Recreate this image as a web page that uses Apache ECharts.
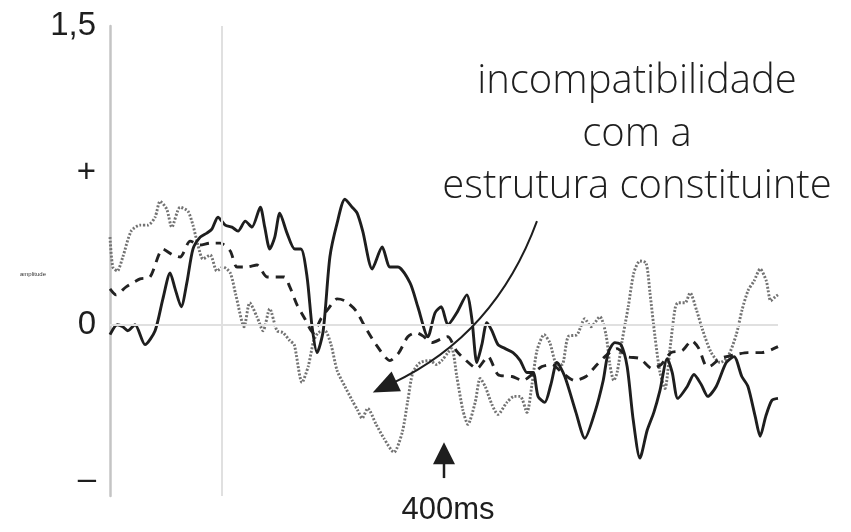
<!DOCTYPE html>
<html>
<head>
<meta charset="utf-8">
<script src="https://cdn.jsdelivr.net/npm/echarts@6/dist/echarts.min.js"></script>
<style>
  html, body { margin: 0; padding: 0; background: #fff; }
  #chart { width: 851px; height: 532px; }
</style>
</head>
<body>
<div id="chart"></div>
<script>
// ERP waveforms: time (ms) and amplitude for three conditions
const solidTime = [-200,-187,-177,-168,-155,-137,-119,-105,-92,-83,-72,-62,-51,-38,-26,-17,-6,7,19,30,43,55,70,78,87,96,105,118,132,143,154,163,172,183,195,208,222,235,244,254,271,289,303,317,339,353,371,384,395,407,423,441,450,459,468,477,486,497,510,524,537,549,560,569,581,592,603,617,637,653,671,686,695,707,718,729,740,752,765,777,788,801,810,820,837,849,862,874,889,907,921,935,946,959,968,978,989,1000];
const solidAmp = [-0.05,0.00,-0.01,-0.03,0.00,-0.10,-0.03,0.13,0.26,0.18,0.09,0.21,0.38,0.44,0.46,0.48,0.54,0.50,0.49,0.47,0.52,0.49,0.59,0.49,0.38,0.44,0.56,0.46,0.38,0.38,0.24,-0.01,-0.14,-0.03,0.34,0.51,0.63,0.59,0.56,0.47,0.28,0.39,0.29,0.29,0.21,0.09,-0.06,0.06,0.09,0.00,0.06,0.15,0.03,-0.19,-0.10,0.01,-0.03,-0.10,-0.12,-0.14,-0.18,-0.24,-0.24,-0.36,-0.39,-0.30,-0.19,-0.26,-0.44,-0.57,-0.44,-0.28,-0.14,-0.09,-0.10,-0.21,-0.48,-0.67,-0.53,-0.44,-0.33,-0.17,-0.24,-0.37,-0.31,-0.25,-0.30,-0.36,-0.31,-0.19,-0.16,-0.26,-0.31,-0.46,-0.56,-0.46,-0.38,-0.37];

const dashedTime = [-200,-189,-171,-146,-128,-105,-87,-74,-56,-38,-20,-2,16,28,46,64,82,98,113,123,136,150,165,179,192,208,222,242,258,278,303,319,335,350,364,378,396,407,422,440,459,479,497,522,542,558,576,594,612,635,655,675,693,711,729,752,774,790,808,828,845,858,869,876,896,923,946,971,1000];
const dashedAmp = [0.18,0.15,0.19,0.23,0.24,0.38,0.35,0.34,0.42,0.40,0.41,0.41,0.37,0.29,0.29,0.30,0.24,0.24,0.24,0.19,0.10,0.03,-0.04,0.03,0.08,0.13,0.12,0.07,-0.01,-0.10,-0.18,-0.14,-0.06,-0.04,-0.06,-0.09,-0.07,-0.06,-0.13,-0.18,-0.22,-0.16,-0.25,-0.26,-0.28,-0.25,-0.21,-0.20,-0.24,-0.28,-0.26,-0.20,-0.15,-0.12,-0.16,-0.17,-0.22,-0.20,-0.14,-0.13,-0.08,-0.12,-0.20,-0.21,-0.17,-0.15,-0.14,-0.14,-0.11];

const dottedTime = [-200,-195,-187,-177,-162,-146,-132,-119,-110,-98,-89,-74,-60,-51,-42,-33,-20,-8,3,16,26,41,51,64,75,87,100,111,123,131,145,156,166,174,186,197,208,222,235,245,253,263,278,292,310,325,335,344,357,375,386,396,407,414,423,434,443,456,465,474,486,497,513,526,537,549,558,567,580,590,603,612,623,639,653,664,680,691,698,705,711,720,731,741,752,763,770,779,788,797,806,815,820,833,842,854,865,880,896,910,925,935,946,957,968,979,987,995,1000];
const dottedAmp = [0.44,0.29,0.27,0.34,0.47,0.50,0.50,0.54,0.62,0.58,0.49,0.59,0.57,0.50,0.40,0.33,0.35,0.27,0.29,0.26,0.15,-0.01,0.11,0.04,-0.03,0.08,-0.03,-0.04,-0.08,-0.10,-0.29,-0.21,-0.08,-0.04,-0.03,-0.10,-0.23,-0.31,-0.38,-0.43,-0.47,-0.42,-0.50,-0.57,-0.64,-0.54,-0.38,-0.24,-0.19,-0.18,-0.20,-0.18,-0.14,-0.12,-0.26,-0.43,-0.50,-0.39,-0.27,-0.31,-0.40,-0.45,-0.39,-0.36,-0.36,-0.44,-0.30,-0.13,-0.05,-0.09,-0.20,-0.20,-0.06,-0.05,0.03,-0.01,0.04,-0.05,-0.20,-0.28,-0.24,-0.08,0.09,0.26,0.32,0.31,0.16,-0.06,-0.24,-0.32,-0.12,0.08,0.11,0.11,0.16,0.07,-0.03,-0.14,-0.19,-0.16,-0.05,0.07,0.17,0.22,0.28,0.22,0.12,0.14,0.15];

// Y tick labels (value -> text)
const yTickValues = [1.5, 0.76, 0, -0.78];
const yTickTexts = ['1,5', '+', '0', '\u2013'];

const noteLines = ['incompatibilidade', 'com a', 'estrutura constituinte'];
const markerTime = 400;
const markerText = '400ms';

function pairs(t, v) { return t.map((x, i) => [x, v[i]]); }

const chart = echarts.init(document.getElementById('chart'), null, { renderer: 'canvas' });

const labelMap = {};
yTickValues.forEach((v, i) => { labelMap[Math.round(v * 100)] = yTickTexts[i]; });

chart.setOption({
  animation: false,
  backgroundColor: '#ffffff',
  grid: { left: 110, right: 73, top: 26, bottom: 36 },
  xAxis: {
    type: 'value', min: -200, max: 1000, show: false
  },
  yAxis: {
    type: 'value', min: -0.86, max: 1.5, interval: 0.01,
    axisLine: { show: true, onZero: false, lineStyle: { color: '#c4c4c4', width: 2.5 } },
    axisTick: { show: false },
    splitLine: { show: false },
    axisLabel: {
      margin: 14,
      fontFamily: 'Liberation Sans, Arial, sans-serif',
      fontSize: 33,
      color: '#1e1e1e',
      formatter: function (v) { return labelMap[Math.round(v * 100)] || ''; }
    }
  },
  series: [
    {
      type: 'line', data: [], silent: true, z: 1,
      markLine: {
        silent: true, symbol: 'none', label: { show: false },
        lineStyle: { color: '#e0e0e0', width: 2, type: 'solid' },
        data: [{ xAxis: 0 }, { yAxis: 0 }]
      }
    },
    {
      name: 'dotted', type: 'line', data: pairs(dottedTime, dottedAmp), z: 2,
      showSymbol: false, smooth: 0.25,
      lineStyle: { color: '#737373', width: 2.9, type: [2, 1.7], cap: 'butt' }
    },
    {
      name: 'dashed', type: 'line', data: pairs(dashedTime, dashedAmp), z: 3,
      showSymbol: false, smooth: 0.25,
      lineStyle: { color: '#222222', width: 2.9, type: [9, 7] }
    },
    {
      name: 'solid', type: 'line', data: pairs(solidTime, solidAmp), z: 4,
      showSymbol: false, smooth: 0.25,
      lineStyle: { color: '#1e1e1e', width: 2.9 }
    }
  ]
});

// Annotations placed through the axes
const P = (t, v) => chart.convertToPixel({ xAxisIndex: 0, yAxisIndex: 0 }, [t, v]);

const arrowTop = P(markerTime, -0.59);
const arrowBottom = P(markerTime, -0.77);
const curveStart = P(567, 0.52);
const curveCtrl = P(492, -0.05);
const curveEnd = P(272, -0.34);

// arrowhead for the curved arrow, aligned with the curve's end tangent
const dx = curveEnd[0] - curveCtrl[0], dy = curveEnd[1] - curveCtrl[1];
const len = Math.hypot(dx, dy);
const ux = dx / len, uy = dy / len;
const headLen = 26, headHalf = 11;
const bx = curveEnd[0] - ux * headLen, by = curveEnd[1] - uy * headLen;
const curveHead = [
  curveEnd,
  [bx - uy * headHalf, by + ux * headHalf],
  [bx + uy * headHalf, by - ux * headHalf]
];

const noteFont = '300 40px "Open Sans", Lato, sans-serif';

chart.setOption({
  graphic: [
    // curved arrow
    {
      type: 'bezierCurve', z: 10,
      shape: {
        x1: curveStart[0], y1: curveStart[1],
        x2: bx + ux * 4, y2: by + uy * 4,
        cpx1: curveCtrl[0], cpy1: curveCtrl[1]
      },
      style: { stroke: '#1e1e1e', lineWidth: 2, fill: null }
    },
    {
      type: 'polygon', z: 10,
      shape: { points: curveHead },
      style: { fill: '#1e1e1e' }
    },
    // vertical arrow at 400 ms
    {
      type: 'line', z: 10,
      shape: { x1: arrowBottom[0], y1: arrowBottom[1], x2: arrowTop[0], y2: arrowTop[1] + 12 },
      style: { stroke: '#1e1e1e', lineWidth: 2.5 }
    },
    {
      type: 'polygon', z: 10,
      shape: { points: [[arrowTop[0], arrowTop[1]], [arrowTop[0] - 11, arrowTop[1] + 22], [arrowTop[0] + 11, arrowTop[1] + 22]] },
      style: { fill: '#1e1e1e' }
    },
    {
      type: 'text', z: 10,
      x: arrowTop[0] + 4, y: 510,
      style: {
        text: markerText, font: '31px "Liberation Sans", Arial, sans-serif',
        fill: '#1e1e1e', align: 'center', verticalAlign: 'middle'
      }
    },
    // note text
    {
      type: 'text', z: 10, x: 637, y: 82,
      style: { text: noteLines[0], font: noteFont, fill: '#1e1e1e', align: 'center', verticalAlign: 'middle' }
    },
    {
      type: 'text', z: 10, x: 637, y: 135,
      style: { text: noteLines[1], font: noteFont, fill: '#1e1e1e', align: 'center', verticalAlign: 'middle' }
    },
    {
      type: 'text', z: 10, x: 637, y: 187,
      style: { text: noteLines[2], font: noteFont, fill: '#1e1e1e', align: 'center', verticalAlign: 'middle' }
    },
    // small axis caption
    {
      type: 'text', z: 10, x: 33, y: 274,
      style: { text: 'amplitude', font: '6px "Liberation Sans", Arial, sans-serif', fill: '#333', align: 'center', verticalAlign: 'middle' }
    }
  ]
});
</script>
</body>
</html>
